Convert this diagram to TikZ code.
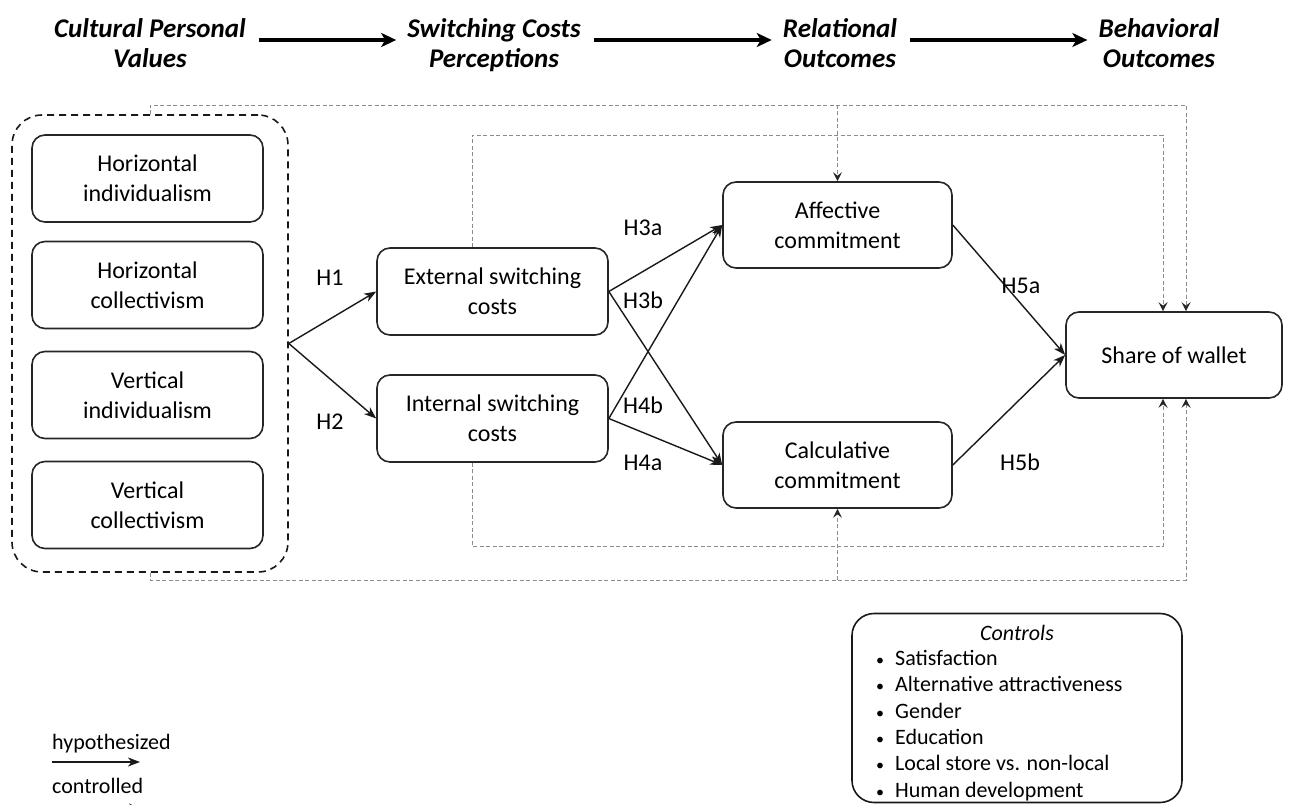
\documentclass[tikz,border=0pt]{standalone}
\usepackage{fontspec}
\setmainfont{Carlito}
\usetikzlibrary{arrows.meta}
\begin{document}
\begin{tikzpicture}[x=1pt,y=-1pt,
  box/.style={draw=black!85, line width=1.6pt, rounded corners=13pt, align=center,
    font=\fontsize{24}{30}\selectfont, inner sep=0pt, minimum width=231pt, minimum height=87pt},
  hyp/.style={-{Stealth[length=12pt,width=9pt,inset=3.5pt]}, line width=1.4pt, draw=black!90},
  ctl/.style={-{Stealth[length=9pt,width=9pt,inset=3.5pt,color=black!85]}, draw=black!45, dash pattern=on 4pt off 2.5pt, line width=0.9pt},
  lbl/.style={font=\fontsize{24}{28}\selectfont, inner sep=0pt},
  head/.style={font=\fontsize{27}{30}\selectfont\bfseries\itshape, align=center, inner sep=0pt},
  harrow/.style={-{Stealth[length=15pt,width=14pt,inset=4pt]}, line width=3.5pt, shorten <=13pt, shorten >=11pt}
]
\useasboundingbox (0,0) rectangle (1298,805);
\fill[white] (0,0) rectangle (1298,805);

% header
\node[head] (hd1) at (150,47) {Cultural Personal\strut\\Values\strut};
\node[head] (hd2) at (494,47) {Switching Costs\strut\\Perceptions\strut};
\node[head] (hd3) at (840,47) {Relational\strut\\Outcomes\strut};
\node[head] (hd4) at (1159,47) {Behavioral\strut\\Outcomes\strut};
\draw[harrow] ([yshift=7pt]hd1.east) -- ([yshift=7pt]hd2.west);
\draw[harrow] ([yshift=7pt]hd2.east) -- ([yshift=7pt]hd3.west);
\draw[harrow] ([yshift=7pt]hd3.east) -- ([yshift=7pt]hd4.west);

% cultural values container
\node[draw=black!90, line width=1.6pt, dash pattern=on 7pt off 5pt, rounded corners=30pt,
  minimum width=276pt, minimum height=457pt, inner sep=0pt] (cpv) at (150,343.5) {};
\node[box] (hi) at (147.5,178.5) {Horizontal\\individualism};
\node[box] (hc) at (147.5,285) {Horizontal\\collectivism};
\node[box] (vi) at (147.5,395) {Vertical\\individualism};
\node[box] (vc) at (147.5,505) {Vertical\\collectivism};

% main nodes
\node[box] (ext) at (492.5,291.5) {External switching\\costs};
\node[box] (int) at (492.5,418.5) {Internal switching\\costs};
\node[box, minimum width=229pt, minimum height=86pt] (aff) at (837.5,225) {Affective\\commitment};
\node[box, minimum width=229pt, minimum height=86pt] (cal) at (837.5,465) {Calculative\\commitment};
\node[box, minimum width=216pt, minimum height=86pt] (sow) at (1174,355) {Share of wallet};

% hypothesized paths
\draw[hyp] (cpv.east) -- (ext.west);
\draw[hyp] (cpv.east) -- (int.west);
\draw[hyp] (ext.east) -- (aff.west);
\draw[hyp] (ext.east) -- (cal.west);
\draw[hyp] (int.east) -- (aff.west);
\draw[hyp] (int.east) -- (cal.west);
\draw[hyp] (aff.east) -- (sow.west);
\draw[hyp] (cal.east) -- (sow.west);

% labels
\node[lbl] (h1) at (330,278) {H1};
\node[lbl] (h2) at (330,422) {H2};
\node[lbl] (h3a) at (643,228) {H3a};
\node[lbl] (h3b) at (643,300) {H3b};
\node[lbl] (h4b) at (643,405) {H4b};
\node[lbl] (h4a) at (643,463) {H4a};
\node[lbl] (h5a) at (1021,286) {H5a};
\node[lbl] (h5b) at (1020,462) {H5b};

% control paths
\coordinate (to) at (1186,105);
\coordinate (ti) at (1163,135);
\coordinate (bi) at (1163,546);
\coordinate (bo) at (1186,580);
\coordinate (xs) at (472,0);
\draw[ctl] (cpv.north) |- (to) -- (to |- sow.north);
\draw[ctl] (aff.north |- to) -- (aff.north);
\draw[ctl] (ext.north -| xs) |- (ti) -- (ti |- sow.north);
\draw[ctl] (int.south -| xs) |- (bi) -- (bi |- sow.south);
\draw[ctl] (cpv.south) |- (bo) -- (bo |- sow.south);
\draw[ctl] (cal.south |- bo) -- (cal.south);

% controls box
\node[draw=black!90, line width=1.6pt, rounded corners=22pt, minimum width=330pt, minimum height=189pt, inner sep=0pt] (ctrl) at (1017,708) {};
\node[font=\fontsize{22}{26}\selectfont\itshape, inner sep=0pt] (ctitle) at (1017,633) {Controls};
\node[anchor=north west, inner sep=0pt, font=\fontsize{22}{26.3}\selectfont] (clist) at (876,647)
 {\begin{tabular}{@{}l@{\hspace{11pt}}l@{}}
 {\fontsize{16}{20}\selectfont •}& Satisfaction\\
 {\fontsize{16}{20}\selectfont •}& Alternative attractiveness\\
 {\fontsize{16}{20}\selectfont •}& Gender\\
 {\fontsize{16}{20}\selectfont •}& Education\\
 {\fontsize{16}{20}\selectfont •}& Local store vs. non-local\\
 {\fontsize{16}{20}\selectfont •}& Human development
 \end{tabular}};

% legend
\node[anchor=west, font=\fontsize{22}{24}\selectfont, inner sep=0pt] (lh) at (52,744) {hypothesized};
\coordinate (lha) at (52,762);
\coordinate (lhb) at (140,762);
\draw[hyp] (lha) -- (lhb);
\node[anchor=west, font=\fontsize{22}{24}\selectfont, inner sep=0pt] (lc) at (52,786) {controlled};
\coordinate (lca) at (52,808);
\coordinate (lcb) at (138,808);
\draw[ctl] (lca) -- (lcb);
\end{tikzpicture}
\end{document}
